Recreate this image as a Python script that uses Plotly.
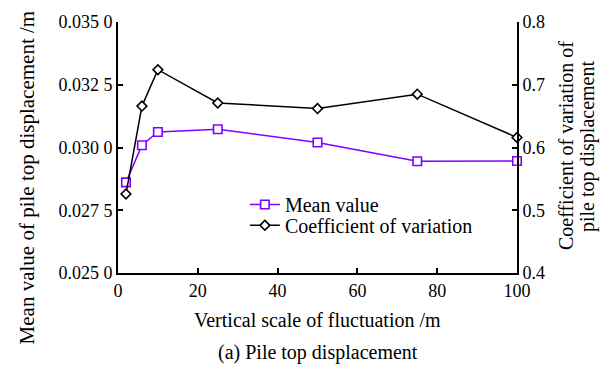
import plotly.graph_objects as go

# Vertical scale of fluctuation (m)
scale_m = [2, 6, 10, 25, 50, 75, 100]
# Mean pile top displacement (m), left axis
mean_disp = [0.02861, 0.03009, 0.03062, 0.03073, 0.03020, 0.02945, 0.02946]
# Coefficient of variation of pile top displacement, right axis
cov_disp = [0.526, 0.666, 0.724, 0.671, 0.662, 0.685, 0.616]

left_ticks = [0.025, 0.0275, 0.030, 0.0325, 0.035]
left_tick_text = ["0.025 0", "0.027 5", "0.030 0", "0.032 5", "0.035 0"]
right_ticks = [0.4, 0.5, 0.6, 0.7, 0.8]
right_tick_text = ["0.4", "0.5", "0.6", "0.7", "0.8"]
x_ticks = [0, 20, 40, 60, 80, 100]

FONT = "Liberation Serif, Times New Roman, serif"
PURPLE = "#8000ff"

fig = go.Figure()
fig.add_trace(go.Scatter(
    x=scale_m, y=mean_disp, name="Mean value", mode="lines+markers",
    line=dict(color=PURPLE, width=1.5),
    marker=dict(symbol="square", size=8.5, color="white",
                line=dict(width=1.6, color=PURPLE)),
    cliponaxis=False, yaxis="y", legend="legend",
))
fig.add_trace(go.Scatter(
    x=scale_m, y=cov_disp, name="Coefficient of variation", mode="lines+markers",
    line=dict(color="black", width=1.5),
    marker=dict(symbol="diamond", size=7.5, color="white",
                line=dict(width=1.6, color="black")),
    cliponaxis=False, yaxis="y2", legend="legend2",
))

axis_common = dict(
    showgrid=False, zeroline=False, showline=True, linecolor="black", linewidth=1.8,
    ticks="inside", ticklen=5, tickwidth=1.5, tickcolor="black",
    tickfont=dict(family=FONT, size=18, color="black"),
)

legend_common = dict(xanchor="left", yanchor="middle", bgcolor="rgba(0,0,0,0)",
                     font=dict(family=FONT, size=20, color="black"))

fig.update_layout(
    width=610, height=367,
    margin=dict(l=118, r=93, t=20, b=94),
    paper_bgcolor="white", plot_bgcolor="white",
    font=dict(family=FONT, size=20, color="black"),
    xaxis=dict(range=[0, 100], tickvals=x_ticks, **axis_common),
    yaxis=dict(range=[0.025, 0.035], tickvals=left_ticks, ticktext=left_tick_text, **axis_common),
    yaxis2=dict(range=[0.4, 0.8], tickvals=right_ticks, ticktext=right_tick_text,
                overlaying="y", side="right", **axis_common),
    showlegend=True,
    legend=dict(x=0.318, y=0.273, **legend_common),
    legend2=dict(x=0.318, y=0.190, **legend_common),
)

title_font = dict(family=FONT, size=20, color="black")
annotations = [
    dict(text="Mean value of pile top displacement /m", x=-0.228, y=0.381,
         xref="paper", yref="paper", textangle=-90, showarrow=False,
         xanchor="center", yanchor="middle",
         font=dict(family=FONT, size=21, color="black")),
    dict(text="Coefficient of variation of", x=1.123, y=0.506,
         xref="paper", yref="paper", textangle=-90, showarrow=False,
         xanchor="center", yanchor="middle", font=title_font),
    dict(text="pile top displacement", x=1.178, y=0.506,
         xref="paper", yref="paper", textangle=-90, showarrow=False,
         xanchor="center", yanchor="middle", font=title_font),
    dict(text="Vertical scale of fluctuation /m", x=0.5, y=-0.188,
         xref="paper", yref="paper", showarrow=False,
         xanchor="center", yanchor="middle", font=title_font),
    dict(text="(a) Pile top displacement", x=0.5, y=-0.315,
         xref="paper", yref="paper", showarrow=False,
         xanchor="center", yanchor="middle", font=title_font),
]
fig.update_layout(annotations=annotations)

fig.write_html("out.html")
